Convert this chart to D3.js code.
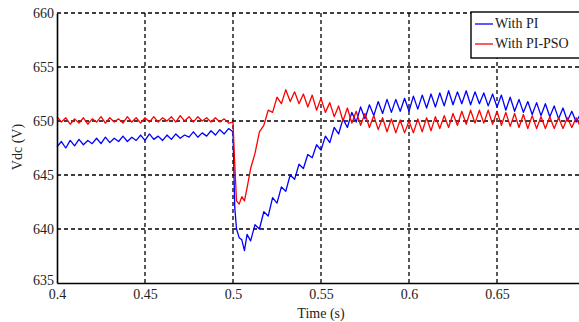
<!DOCTYPE html>
<html>
<head>
<meta charset="utf-8">
<script src="https://cdn.jsdelivr.net/npm/d3@7"></script>
<style>
  html, body { margin: 0; padding: 0; background: #fff; }
  svg { display: block; }
  svg text { font-family: "Liberation Serif", "DejaVu Serif", serif; }
</style>
</head>
<body>
<div id="chart"></div>
<script>
// sample times (s)
const time = [
  0.4000, 0.4025, 0.4050, 0.4075, 0.4100, 0.4125, 0.4150, 0.4175, 0.4200, 0.4225,
  0.4250, 0.4275, 0.4300, 0.4325, 0.4350, 0.4375, 0.4400, 0.4425, 0.4450, 0.4475,
  0.4500, 0.4525, 0.4550, 0.4575, 0.4600, 0.4625, 0.4650, 0.4675, 0.4700, 0.4725,
  0.4750, 0.4775, 0.4800, 0.4825, 0.4850, 0.4875, 0.4900, 0.4925, 0.4950, 0.4975,
  0.5000, 0.5010, 0.5020, 0.5035, 0.5050, 0.5065, 0.5080, 0.5100, 0.5125, 0.5150,
  0.5175, 0.5200, 0.5225, 0.5250, 0.5275, 0.5300, 0.5325, 0.5350, 0.5375, 0.5400,
  0.5425, 0.5450, 0.5475, 0.5500, 0.5525, 0.5550, 0.5575, 0.5600, 0.5625, 0.5650,
  0.5675, 0.5700, 0.5725, 0.5750, 0.5775, 0.5800, 0.5825, 0.5850, 0.5875, 0.5900,
  0.5925, 0.5950, 0.5975, 0.6000, 0.6025, 0.6050, 0.6075, 0.6100, 0.6125, 0.6150,
  0.6175, 0.6200, 0.6225, 0.6250, 0.6275, 0.6300, 0.6325, 0.6350, 0.6375, 0.6400,
  0.6425, 0.6450, 0.6475, 0.6500, 0.6525, 0.6550, 0.6575, 0.6600, 0.6625, 0.6650,
  0.6675, 0.6700, 0.6725, 0.6750, 0.6775, 0.6800, 0.6825, 0.6850, 0.6875, 0.6900,
  0.6925, 0.6950, 0.6975, 0.7000
];

// Vdc with PI (V)
const piVdc = [
  647.6, 648.1, 647.5, 648.2, 647.7, 648.3, 647.8, 648.2, 647.9, 648.4,
  647.9, 648.5, 648.0, 648.4, 648.1, 648.6, 648.1, 648.5, 648.2, 648.7,
  648.2, 648.8, 648.3, 648.6, 648.2, 648.7, 648.3, 648.8, 648.4, 648.7,
  648.5, 649.0, 648.5, 648.9, 648.6, 649.1, 648.7, 649.2, 648.8, 649.3,
  649.0, 642.0, 640.0, 639.2, 639.0, 638.0, 639.5, 638.9, 640.4, 640.0,
  641.6, 641.2, 642.9, 642.4, 643.9, 643.5, 645.0, 644.6, 646.0, 645.6,
  646.9, 646.6, 647.8, 647.3, 648.6, 648.0, 649.4, 648.8, 650.2, 649.4,
  650.8, 649.9, 651.3, 650.2, 651.5, 650.5, 651.8, 650.7, 652.0, 650.8,
  652.0, 650.9, 652.1, 650.9, 652.3, 651.1, 652.4, 651.2, 652.5, 651.3,
  652.6, 651.4, 652.8, 651.5, 652.7, 651.6, 652.8, 651.5, 652.7, 651.6,
  652.6, 651.4, 652.5, 651.3, 652.4, 651.0, 652.2, 650.9, 652.0, 650.8,
  651.8, 650.6, 651.7, 650.5, 651.6, 650.4, 651.4, 650.2, 651.2, 650.0,
  650.9, 649.9, 650.7, 649.9
];

// Vdc with PI-PSO (V)
const psoVdc = [
  650.4, 649.9, 650.3, 649.7, 650.2, 649.8, 650.3, 649.7, 650.2, 649.9,
  650.4, 649.8, 650.3, 649.9, 650.2, 649.8, 650.4, 649.9, 650.3, 649.8,
  650.3, 649.9, 650.4, 649.9, 650.3, 650.0, 650.4, 649.9, 650.5, 650.0,
  650.4, 649.9, 650.4, 650.0, 650.3, 649.9, 650.3, 649.9, 650.2, 649.8,
  649.9, 646.0, 642.6, 642.3, 643.0, 642.6, 643.8, 645.6, 647.0, 649.0,
  649.6, 651.0, 650.8, 652.2, 651.6, 652.9, 651.8, 652.7, 651.6, 652.5,
  651.3, 652.4, 651.0, 652.1, 650.8, 651.7, 650.4, 651.4, 650.0, 651.2,
  649.8, 650.9, 649.6, 650.7, 649.4, 650.5, 649.2, 650.3, 649.0, 650.2,
  648.9, 650.1, 648.9, 650.0, 648.9, 650.2, 649.0, 650.3, 649.1, 650.4,
  649.3, 650.5, 649.4, 650.7, 649.6, 650.9, 649.7, 651.0, 649.8, 651.0,
  649.8, 651.0, 649.7, 650.9, 649.6, 650.8, 649.5, 650.7, 649.4, 650.6,
  649.3, 650.5, 649.3, 650.4, 649.3, 650.4, 649.3, 650.3, 649.3, 650.3,
  649.4, 650.3, 649.4, 650.1
];

const xTicks = [0.4, 0.45, 0.5, 0.55, 0.6, 0.65];
const yTicks = [635, 640, 645, 650, 655, 660];
const seriesNames = ["With PI", "With PI-PSO"];
const seriesColors = ["#0000ff", "#ff0000"];

const width = 579, height = 322;
const margin = { top: 13, right: -6, bottom: 39, left: 57 };
const plotW = width - margin.left - margin.right;
const plotH = height - margin.top - margin.bottom;

const svg = d3.select("#chart").append("svg")
  .attr("width", width)
  .attr("height", height);

const g = svg.append("g")
  .attr("transform", "translate(" + margin.left + "," + margin.top + ")");

const x = d3.scaleLinear().domain([0.4, 0.7]).range([0, plotW]);
const y = d3.scaleLinear().domain([635, 660]).range([plotH, 0]);

// dashed grid
g.append("g").selectAll("line")
  .data(xTicks.slice(1))
  .enter().append("line")
  .attr("x1", d => x(d)).attr("x2", d => x(d))
  .attr("y1", 0).attr("y2", plotH)
  .attr("stroke", "#000").attr("stroke-width", 1.3)
  .attr("stroke-dasharray", "4,3");

g.append("g").selectAll("line")
  .data(yTicks.slice(1))
  .enter().append("line")
  .attr("x1", 0).attr("x2", plotW)
  .attr("y1", d => y(d)).attr("y2", d => y(d))
  .attr("stroke", "#000").attr("stroke-width", 1.3)
  .attr("stroke-dasharray", "4,3");

// data lines
const line = d3.line()
  .x((d, i) => x(time[i]))
  .y(d => y(d));

[piVdc, psoVdc].forEach((vals, k) => {
  g.append("path")
    .datum(vals)
    .attr("fill", "none")
    .attr("stroke", seriesColors[k])
    .attr("stroke-width", 1.3)
    .attr("stroke-linejoin", "round")
    .attr("d", line);
});

// axes
const xAxis = d3.axisBottom(x).tickValues(xTicks).tickSize(0).tickPadding(4)
  .tickFormat(d => String(d));
const yAxis = d3.axisLeft(y).tickValues(yTicks).tickSize(0).tickPadding(3)
  .tickFormat(d => String(d));

const gx = g.append("g")
  .attr("transform", "translate(0," + plotH + ")")
  .call(xAxis);
const gy = g.append("g").call(yAxis);

[gx, gy].forEach(a => {
  a.attr("font-family", null);
  a.select(".domain").attr("stroke", "#000").attr("stroke-width", 1.6);
  a.selectAll("text")
    .attr("fill", "#222")
    .style("font-size", "14px");
});
gx.selectAll("text").attr("dy", "0.85em");
gy.selectAll("text").attr("dy", d => d === 635 ? "0.1em" : "0.32em");

// axis titles
svg.append("text")
  .attr("x", 321).attr("y", 318)
  .attr("text-anchor", "middle")
  .style("font-size", "14px")
  .attr("fill", "#222")
  .text("Time (s)");

svg.append("text")
  .attr("transform", "translate(22,147) rotate(-90)")
  .attr("text-anchor", "middle")
  .style("font-size", "14px")
  .attr("fill", "#222")
  .text("Vdc (V)");

// legend
const legend = svg.append("g").attr("transform", "translate(471,12)");
legend.append("rect")
  .attr("x", 0).attr("y", 0)
  .attr("width", 140).attr("height", 46)
  .attr("fill", "#fff")
  .attr("stroke", "#000").attr("stroke-width", 1.4);

seriesNames.forEach((name, i) => {
  const ly = 12 + i * 20;
  legend.append("line")
    .attr("x1", 4).attr("x2", 22)
    .attr("y1", ly).attr("y2", ly)
    .attr("stroke", seriesColors[i]).attr("stroke-width", 1.3);
  legend.append("text")
    .attr("x", 24).attr("y", ly + 4)
    .style("font-size", "14px")
    .attr("fill", "#222")
    .text(name);
});
</script>
</body>
</html>
